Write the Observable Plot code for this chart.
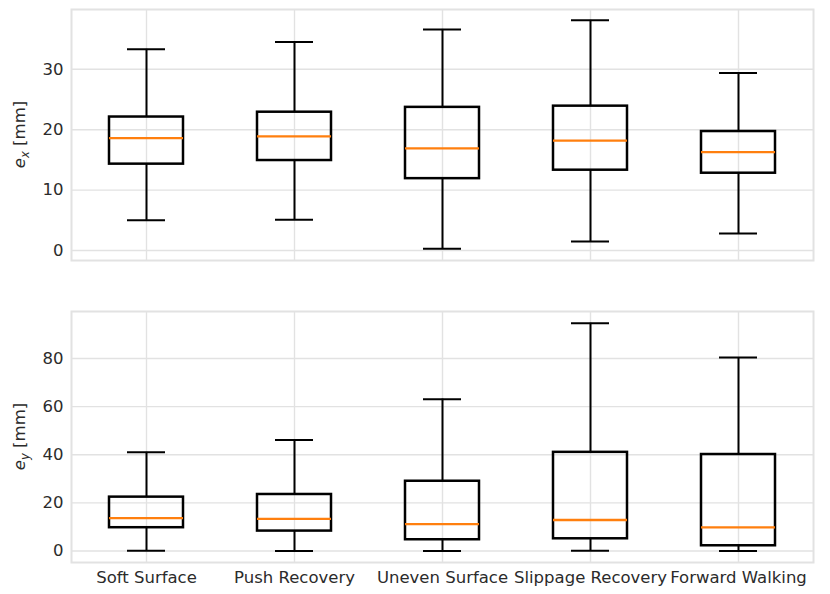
<!DOCTYPE html>
<html><head><meta charset="utf-8">
<script src="https://cdn.jsdelivr.net/npm/d3@7"></script>
<script src="https://cdn.jsdelivr.net/npm/@observablehq/plot@0.6"></script>
<style>
body{margin:0;background:#fff}
#chart>svg{display:block}
</style>
</head><body><div id="chart"></div>
<script>
const categories = ["Soft Surface","Push Recovery","Uneven Surface","Slippage Recovery","Forward Walking"];

const exLow  = [5.0, 5.1, 0.3, 1.5, 2.8];
const exQ1   = [14.3, 14.9, 11.9, 13.3, 12.8];
const exMed  = [18.6, 18.9, 16.9, 18.2, 16.3];
const exQ3   = [22.1, 22.9, 23.7, 23.9, 19.7];
const exHigh = [33.3, 34.5, 36.6, 38.1, 29.4];

const eyLow  = [0.1, 0.0, 0.0, 0.1, 0.0];
const eyQ1   = [9.7, 8.3, 4.7, 5.1, 2.2];
const eyMed  = [13.7, 13.4, 11.2, 12.9, 9.8];
const eyQ3   = [22.4, 23.5, 29.0, 41.0, 40.1];
const eyHigh = [41.0, 46.1, 63.1, 94.6, 80.4];

const exTicks = [0, 10, 20, 30];
const eyTicks = [0, 20, 40, 60, 80];

const GRID = "#e2e2e2";
const TEXT = "#2b2b2b";
const FS = 16.5;

function panel(low, q1, med, q3, high, opt) {
  const rows = categories.map((c, i) => ({cat: c, low: low[i], q1: q1[i], med: med[i], q3: q3[i], high: high[i]}));
  const marks = [
    Plot.gridX({stroke: GRID, strokeOpacity: 1, strokeWidth: 1.4}),
    Plot.gridY(opt.ticks, {stroke: GRID, strokeOpacity: 1, strokeWidth: 1.4}),
    Plot.frame({stroke: GRID, strokeWidth: 2}),
    Plot.axisY(opt.ticks, {tickSize: 0, tickPadding: 8, fontSize: FS, fill: TEXT}),
    Plot.ruleX(rows, {x: "cat", y1: "low", y2: "q1", stroke: "black", strokeWidth: 2}),
    Plot.ruleX(rows, {x: "cat", y1: "q3", y2: "high", stroke: "black", strokeWidth: 2}),
    Plot.tickY(rows, {x: "cat", y: "low", stroke: "black", strokeWidth: 2, insetLeft: 55, insetRight: 55}),
    Plot.tickY(rows, {x: "cat", y: "high", stroke: "black", strokeWidth: 2, insetLeft: 55, insetRight: 55}),
    Plot.barY(rows, {x: "cat", y1: "q1", y2: "q3", fill: "none", stroke: "black", strokeWidth: 2.5, insetLeft: 37, insetRight: 37}),
    Plot.tickY(rows, {x: "cat", y: "med", stroke: "#ff7f0e", strokeWidth: 2.3, insetLeft: 37, insetRight: 37})
  ];
  if (opt.showX) marks.push(Plot.axisX({tickSize: 0, tickPadding: 9, fontSize: FS, fill: TEXT}));
  const svg = Plot.plot({
    width: 830, height: opt.height,
    marginLeft: 71, marginRight: 17, marginTop: opt.marginTop, marginBottom: opt.marginBottom,
    style: {fontFamily: "DejaVu Sans", fontSize: FS + "px", color: TEXT, background: "#fff"},
    x: {type: "band", domain: categories, padding: 0, label: null, axis: opt.showX ? undefined : null},
    y: {domain: opt.domain, label: null},
    marks
  });
  const mid = opt.marginTop + (opt.height - opt.marginTop - opt.marginBottom) / 2;
  const t = d3.select(svg).append("text")
    .attr("transform", `translate(25,${mid}) rotate(-90)`)
    .attr("text-anchor", "middle")
    .attr("font-family", "DejaVu Sans")
    .attr("font-size", FS)
    .attr("fill", TEXT);
  t.append("tspan").attr("font-style", "italic").text("e");
  t.append("tspan").attr("font-style", "italic").attr("font-size", FS * 0.7).attr("dy", 3.5).text(opt.sub);
  t.append("tspan").attr("dy", -3.5).text(" [mm]");
  return svg;
}

const root = document.getElementById("chart");
root.appendChild(panel(exLow, exQ1, exMed, exQ3, exHigh,
  {domain: [-1.65, 39.9], ticks: exTicks, height: 290, marginTop: 9, marginBottom: 30, showX: false, sub: "x"}));
root.appendChild(panel(eyLow, eyQ1, eyMed, eyQ3, eyHigh,
  {domain: [-4.75, 99.5], ticks: eyTicks, height: 304, marginTop: 21, marginBottom: 32, showX: true, sub: "y"}));
</script>
</body></html>
